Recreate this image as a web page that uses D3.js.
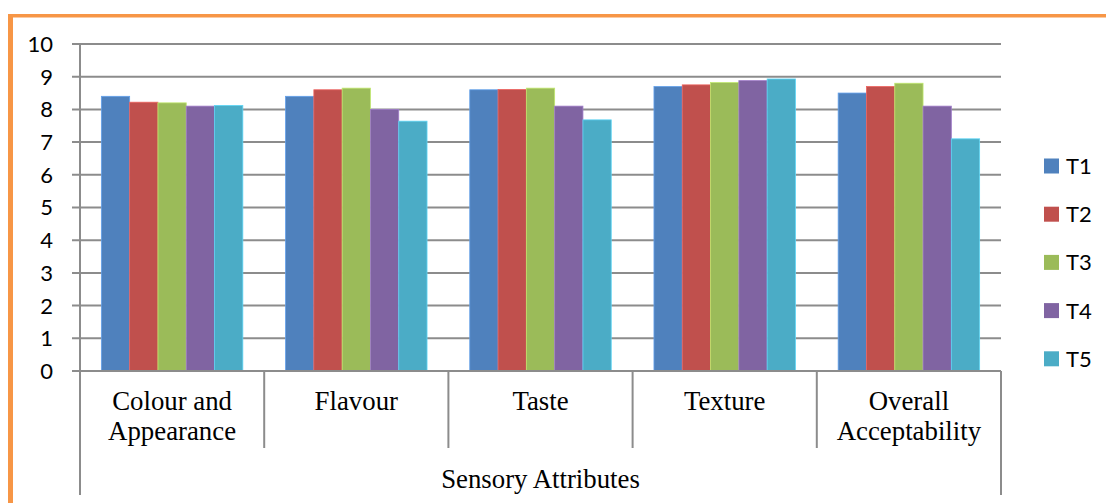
<!DOCTYPE html>
<html>
<head>
<meta charset="utf-8">
<script src="https://cdn.jsdelivr.net/npm/d3@7"></script>
<style>
  body { margin: 0; background: #fff; }
  svg { display: block; }
</style>
</head>
<body>
<div id="chart"></div>
<script>
// chart data
var categories = [["Colour and", "Appearance"], ["Flavour"], ["Taste"], ["Texture"], ["Overall", "Acceptability"]];
var series = ["T1", "T2", "T3", "T4", "T5"];
var T1 = [8.4, 8.4, 8.6, 8.7, 8.5];
var T2 = [8.22, 8.6, 8.61, 8.75, 8.7];
var T3 = [8.2, 8.65, 8.65, 8.82, 8.8];
var T4 = [8.1, 8.0, 8.1, 8.88, 8.1];
var T5 = [8.12, 7.64, 7.68, 8.93, 7.1];
var yTicks = [0, 1, 2, 3, 4, 5, 6, 7, 8, 9, 10];
var axisTitle = "Sensory Attributes";

var colors = ["#4F81BD", "#C0504D", "#9BBB59", "#8064A2", "#4BACC6"];
var values = [T1, T2, T3, T4, T5];
var gridColor = "#8c8c8c";

var W = 1106, H = 503;
var svg = d3.select("#chart").append("svg")
  .attr("width", W)
  .attr("height", H);

// orange frame
svg.append("rect").attr("x", 8).attr("y", 14).attr("width", W - 8).attr("height", 3.5).attr("fill", "#F79646");
svg.append("rect").attr("x", 8).attr("y", 14).attr("width", 5).attr("height", H - 14).attr("fill", "#F79646");

var plotLeft = 80, plotRight = 1001;
var y = d3.scaleLinear().domain([0, 10]).range([371, 44]);
var catIdx = d3.range(categories.length);
var x0 = d3.scaleBand().domain(catIdx).range([plotLeft, plotRight]).padding(0);
var x1 = d3.scaleBand().domain(series).range([0, x0.bandwidth()]).paddingInner(0).paddingOuter(0.755);

// gridlines
svg.append("g").selectAll("line")
  .data(yTicks.filter(d => d > 0))
  .enter().append("line")
  .attr("x1", plotLeft - 8).attr("x2", plotRight)
  .attr("y1", d => y(d)).attr("y2", d => y(d))
  .attr("stroke", gridColor).attr("stroke-width", 2);

// bars
var groups = svg.append("g").selectAll("g")
  .data(catIdx)
  .enter().append("g")
  .attr("transform", d => "translate(" + x0(d) + ",0)");

groups.selectAll("rect")
  .data(ci => series.map((s, si) => ({ s: s, si: si, v: values[si][ci] })))
  .enter().append("rect")
  .attr("x", d => x1(d.s))
  .attr("y", d => y(d.v))
  .attr("width", x1.bandwidth())
  .attr("height", d => y(0) - y(d.v))
  .attr("fill", d => colors[d.si])
  .attr("stroke", d => d3.color(colors[d.si]).brighter(0.6))
  .attr("stroke-width", 0.8);

// y axis labels
svg.append("g").selectAll("text")
  .data(yTicks)
  .enter().append("text")
  .attr("x", 53)
  .attr("y", d => y(d))
  .attr("dy", "0.36em")
  .attr("text-anchor", "end")
  .attr("font-family", "Lato, 'Open Sans', sans-serif")
  .attr("font-size", 22)
  .attr("fill", "#000")
  .text(d => d);

// axes lines
var axisG = svg.append("g").attr("stroke", gridColor).attr("stroke-width", 2);
axisG.append("line").attr("x1", plotLeft - 8).attr("x2", plotRight).attr("y1", y(0)).attr("y2", y(0));
axisG.append("line").attr("x1", plotLeft).attr("x2", plotLeft).attr("y1", y(10)).attr("y2", 495);
axisG.append("line").attr("x1", plotRight).attr("x2", plotRight).attr("y1", y(0)).attr("y2", 495);
axisG.selectAll("line.div")
  .data(catIdx.slice(1))
  .enter().append("line")
  .attr("class", "div")
  .attr("x1", d => x0(d)).attr("x2", d => x0(d))
  .attr("y1", y(0)).attr("y2", 448);

// category labels
var catText = svg.append("g").selectAll("text")
  .data(catIdx)
  .enter().append("text")
  .attr("x", d => x0(d) + x0.bandwidth() / 2)
  .attr("y", 410)
  .attr("text-anchor", "middle")
  .attr("font-family", "'Liberation Serif', 'Times New Roman', serif")
  .attr("font-size", 26.8)
  .attr("fill", "#000");

catText.selectAll("tspan")
  .data(d => categories[d])
  .enter().append("tspan")
  .attr("x", function () { return d3.select(this.parentNode).attr("x"); })
  .attr("dy", (d, i) => i === 0 ? 0 : 30)
  .text(d => d);

svg.append("text")
  .attr("x", (plotLeft + plotRight) / 2)
  .attr("y", 488)
  .attr("text-anchor", "middle")
  .attr("font-family", "'Liberation Serif', 'Times New Roman', serif")
  .attr("font-size", 26.8)
  .attr("fill", "#000")
  .text(axisTitle);

// legend
var legend = svg.append("g").selectAll("g")
  .data(series)
  .enter().append("g")
  .attr("transform", (d, i) => "translate(1044," + (166 + i * 48.2) + ")");

legend.append("rect")
  .attr("x", 0).attr("y", -7.5)
  .attr("width", 15).attr("height", 15)
  .attr("fill", (d, i) => colors[i]);

legend.append("text")
  .attr("x", 22)
  .attr("y", 0)
  .attr("dy", "0.36em")
  .attr("font-family", "Lato, 'Open Sans', sans-serif")
  .attr("font-size", 22)
  .attr("fill", "#000")
  .text(d => d);
</script>
</body>
</html>
